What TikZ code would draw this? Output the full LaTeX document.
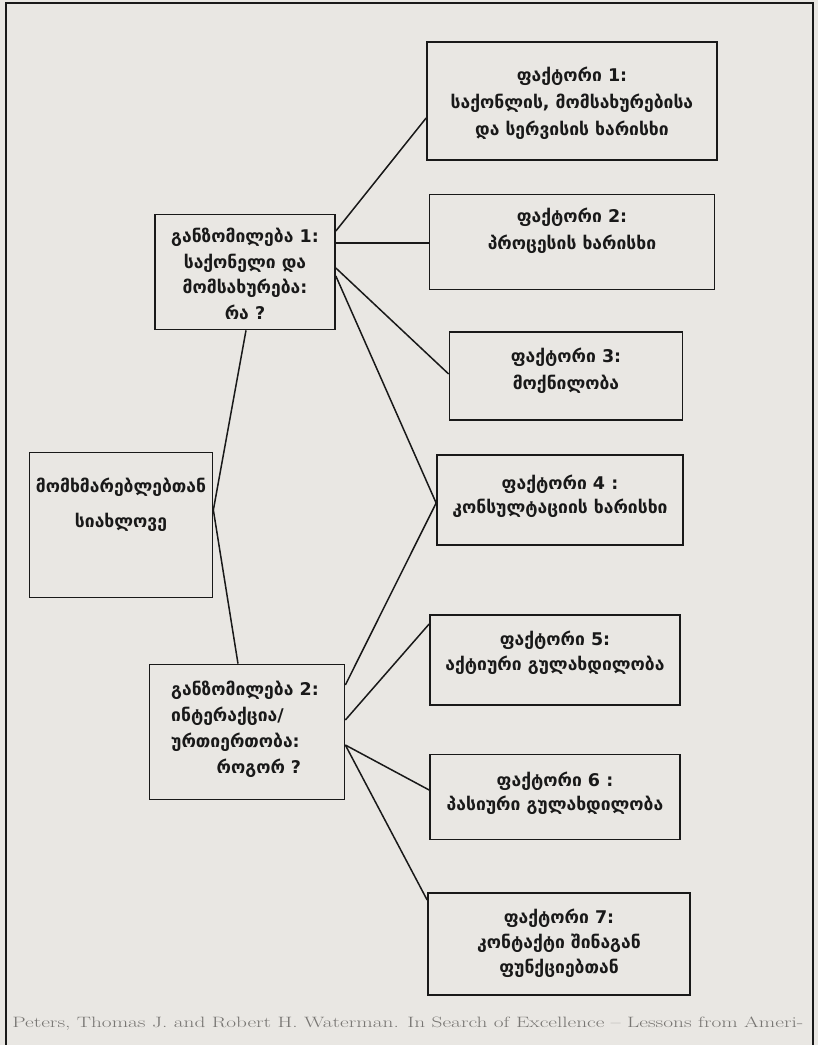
\documentclass[tikz,border=0pt]{standalone}
\usepackage{fontspec}
\newfontfamily\geo{DejaVu Sans}
\usetikzlibrary{calc}
\definecolor{paper}{RGB}{233,231,227}
\definecolor{ink}{RGB}{25,25,25}
\definecolor{faint}{RGB}{120,118,115}
\begin{document}
\begin{tikzpicture}[x=1pt,y=-1pt,
  box/.style={draw=ink,line width=1.7pt,rectangle,inner sep=0pt},
  txt/.style={font=\geo\bfseries\fontsize{17.5}{27}\selectfont,text=ink,align=center,inner sep=0pt},
  link/.style={draw=ink,line width=1.5pt}]
\fill[paper] (0,0) rectangle (818,1045);
\useasboundingbox (0,0) rectangle (818,1045);
\draw[ink,line width=1.4pt] (6,1045) -- (6,3) -- (813,3) -- (813,1045);
% boxes
\node[box,minimum width=290,minimum height=118] (f1) at (572,101) {};
\node[txt] (f1t) at (572,103) {ფაქტორი 1:\\საქონლის, მომსახურებისა\\და სერვისის ხარისხი};
\node[box,minimum width=285,minimum height=95] (f2) at (572,242) {};
\node[txt] (f2t) at (572,231) {ფაქტორი 2:\\პროცესის ხარისხი};
\node[box,minimum width=180,minimum height=115] (d1) at (245,272) {};
\node[txt,font=\geo\bfseries\fontsize{17.5}{25.5}\selectfont] (d1t) at (245,274) {განზომილება 1:\\საქონელი და\\მომსახურება:\\რა ?};
\node[box,minimum width=233,minimum height=88] (f3) at (566,376) {};
\node[txt] (f3t) at (566,371) {ფაქტორი 3:\\მოქნილობა};
\node[box,minimum width=183,minimum height=145] (c) at (121,525) {};
\node[txt,font=\geo\bfseries\fontsize{17.5}{35}\selectfont] (ct) at (121,505) {მომხმარებლებთან\\სიახლოვე};
\node[box,minimum width=246,minimum height=90] (f4) at (560,500) {};
\node[txt,font=\geo\bfseries\fontsize{17.5}{24}\selectfont] (f4t) at (560,496) {ფაქტორი 4 :\\კონსულტაციის ხარისხი};
\node[box,minimum width=250,minimum height=90] (f5) at (555,660) {};
\node[txt,font=\geo\bfseries\fontsize{17.5}{25}\selectfont] (f5t) at (555,653) {ფაქტორი 5:\\აქტიური გულახდილობა};
\node[box,minimum width=195,minimum height=135] (d2) at (247,732) {};
\node[txt,align=left,font=\geo\bfseries\fontsize{17.5}{26}\selectfont] (d2t) at (245,729) {განზომილება 2:\\ინტერაქცია/\\ურთიერთობა:\\\hspace*{2.6em}როგორ ?};
\node[box,minimum width=250,minimum height=85] (f6) at (555,797) {};
\node[txt,font=\geo\bfseries\fontsize{17.5}{24}\selectfont] (f6t) at (555,793) {ფაქტორი 6 :\\პასიური გულახდილობა};
\node[box,minimum width=262,minimum height=102] (f7) at (559,944) {};
\node[txt,font=\geo\bfseries\fontsize{17.5}{25}\selectfont] (f7t) at (559,943) {ფაქტორი 7:\\კონტაქტი შინაგან\\ფუნქციებთან};
% connectors
\draw[link] (d1.east |- 0,231) -- (f1.west |- 0,118);
\draw[link] (d1.east |- 0,243) -- (f2.west |- 0,243);
\draw[link] (d1.east |- 0,268) -- (f3.west |- 0,374);
\draw[link] (d1.east |- 0,276) -- (f4.west |- 0,503);
\draw[link] (d1.south -| 246,0) -- (c.east |- 0,510);
\draw[link] (c.east |- 0,510) -- (d2.north -| 238,0);
\draw[link] (d2.east |- 0,685) -- (f4.west |- 0,503);
\draw[link] (d2.east |- 0,720) -- (f5.west |- 0,624);
\draw[link] (d2.east |- 0,745) -- (f6.west |- 0,790);
\draw[link] (d2.east |- 0,745) -- (f7.west |- 0,900);
% caption
\node[anchor=west,text=faint,font=\fontsize{15}{17}\selectfont,inner sep=0pt,xscale=1.42,transform shape] (cap) at (12,1024) {Peters, Thomas J. and Robert H. Waterman. In Search of Excellence -- Lessons from Ameri-};
\end{tikzpicture}
\end{document}
